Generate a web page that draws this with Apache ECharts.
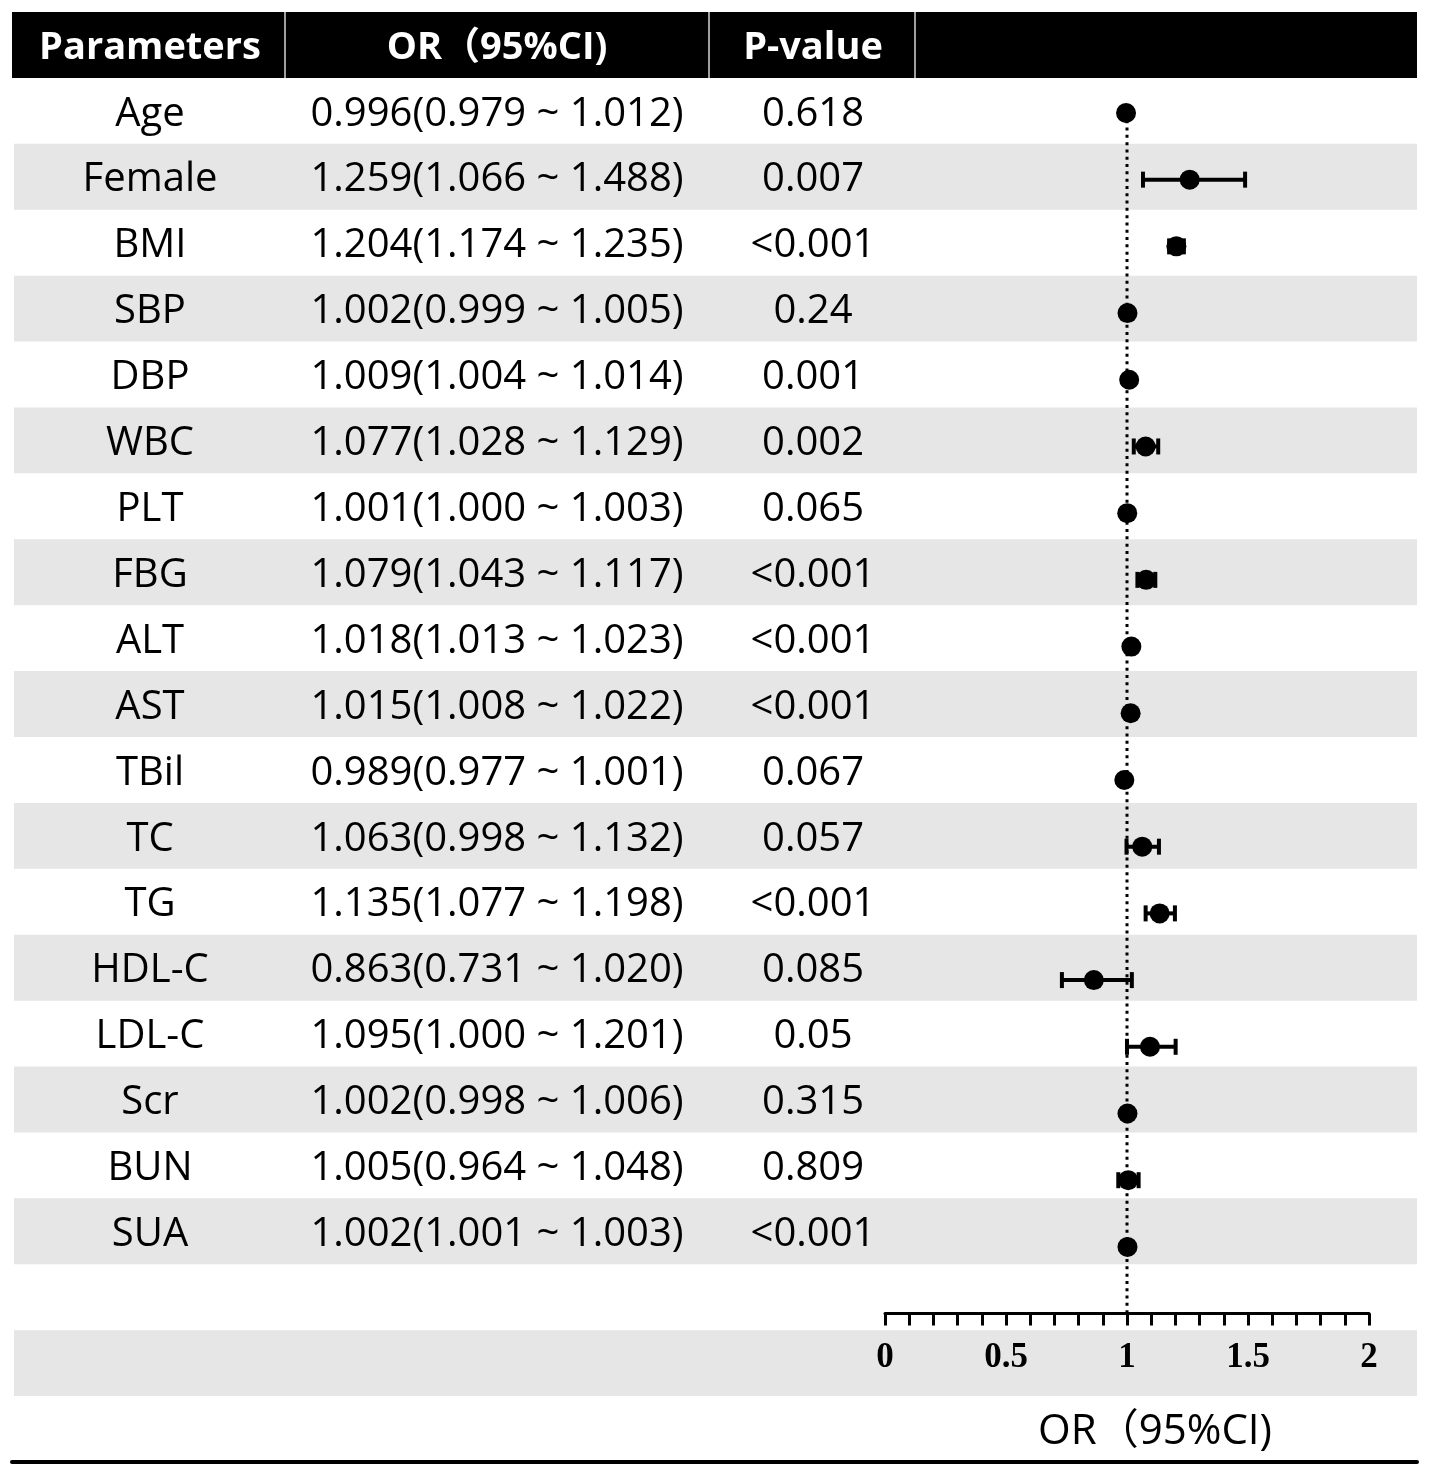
<!DOCTYPE html>
<html>
<head>
<meta charset="utf-8">
<title>Forest plot</title>
<script src="https://cdn.jsdelivr.net/npm/echarts@6/dist/echarts.min.js"></script>
<style>
  html, body { margin: 0; padding: 0; background: #fff; }
  #main { width: 1430px; height: 1475px; }
</style>
</head>
<body>
<div id="main"></div>
<script>
// table data
const params = ['Age', 'Female', 'BMI', 'SBP', 'DBP', 'WBC', 'PLT', 'FBG', 'ALT', 'AST',
    'TBil', 'TC', 'TG', 'HDL-C', 'LDL-C', 'Scr', 'BUN', 'SUA'];
const orValues = [0.996, 1.259, 1.204, 1.002, 1.009, 1.077, 1.001, 1.079, 1.018, 1.015,
    0.989, 1.063, 1.135, 0.863, 1.095, 1.002, 1.005, 1.002];
const ciLow = [0.979, 1.066, 1.174, 0.999, 1.004, 1.028, 1.000, 1.043, 1.013, 1.008,
    0.977, 0.998, 1.077, 0.731, 1.000, 0.998, 0.964, 1.001];
const ciHigh = [1.012, 1.488, 1.235, 1.005, 1.014, 1.129, 1.003, 1.117, 1.023, 1.022,
    1.001, 1.132, 1.198, 1.020, 1.201, 1.006, 1.048, 1.003];
const pValues = ['0.618', '0.007', '<0.001', '0.24', '0.001', '0.002', '0.065', '<0.001', '<0.001', '<0.001',
    '0.067', '0.057', '<0.001', '0.085', '0.05', '0.315', '0.809', '<0.001'];
const headers = ['Parameters', 'OR（95%CI)', 'P-value'];
const axisTicks = [0, 0.5, 1, 1.5, 2];
const xTitle = 'OR（95%CI)';

const SANS = "'Microsoft YaHei', 'Open Sans', 'Noto Sans CJK SC', sans-serif";
const TOTAL_ROWS = 22;          // header + 18 rows + blank + axis row + title row
const TABLE_W = 1405;
const colX = [138, 485, 801];   // column centres in table coords
const colSep = [273, 697, 903];
const refLine = 1;

// gray bands: every second parameter row, plus the axis row
let bandRows = [];
params.forEach((p, i) => { if (i % 2 === 1) bandRows.push(i + 1); });
bandRows.push(params.length + 2);

// text cells [col x, row, text, kind]
let cells = [];
headers.forEach((h, c) => cells.push([colX[c], 0, h, 'head']));
params.forEach((p, i) => {
    const ciText = orValues[i].toFixed(3) + '(' + ciLow[i].toFixed(3) + ' ~ ' + ciHigh[i].toFixed(3) + ')';
    cells.push([colX[0], i + 1, p, 'body']);
    cells.push([colX[1], i + 1, ciText, 'body']);
    cells.push([colX[2], i + 1, pValues[i], 'body']);
});
cells.push([1143, params.length + 3, xTitle, 'title']);

let myChart = echarts.init(document.getElementById('main'));

let options = {
    backgroundColor: '#fff',
    animation: false,
    grid: [
        { left: 12, top: 12, width: TABLE_W, height: 1450 },
        { left: 885, top: 79.6, width: 484, height: 1234 }
    ],
    xAxis: [
        {
            gridIndex: 0, type: 'value', min: 0, max: TABLE_W, z: 10,
            axisLine: { show: true, onZero: false, lineStyle: { color: '#000', width: 4 } },
            axisTick: { show: false }, axisLabel: { show: false }, splitLine: { show: false }
        },
        {
            gridIndex: 1, type: 'value', min: axisTicks[0], max: axisTicks[axisTicks.length - 1], interval: 0.5,
            z: 10,
            axisLine: { show: true, onZero: false, lineStyle: { color: '#000', width: 3 } },
            axisTick: { show: true, length: 12, lineStyle: { color: '#000', width: 3 } },
            minorTick: { show: true, splitNumber: 5, length: 12, lineStyle: { color: '#000', width: 3 } },
            axisLabel: {
                color: '#000', fontFamily: "'Liberation Serif', 'Times New Roman', serif",
                fontWeight: 'bold', fontSize: 35, margin: 27
            },
            splitLine: { show: false }
        }
    ],
    yAxis: [
        { gridIndex: 0, type: 'value', inverse: true, min: 0, max: TOTAL_ROWS, show: false },
        { gridIndex: 1, type: 'value', inverse: true, min: -0.5, max: params.length, show: false }
    ],
    series: [
        {
            // row backgrounds and header bar
            type: 'custom', xAxisIndex: 0, yAxisIndex: 0, z: 1, silent: true,
            data: [[0, 'head']].concat(bandRows.map(r => [r, 'band'])),
            renderItem: function (params, api) {
                const row = api.value(0);
                const isHead = row === 0;
                const p0 = api.coord([isHead ? 0 : 2, row]);
                const p1 = api.coord([TABLE_W, row + 1]);
                const children = [{
                    type: 'rect',
                    shape: { x: p0[0], y: p0[1], width: p1[0] - p0[0], height: p1[1] - p0[1] },
                    style: { fill: isHead ? '#000' : '#e6e6e6' }
                }];
                if (isHead) {
                    colSep.forEach(sx => {
                        const s = api.coord([sx, row]);
                        children.push({
                            type: 'line',
                            shape: { x1: s[0], y1: p0[1], x2: s[0], y2: p1[1] },
                            style: { stroke: '#a0a0a0', lineWidth: 2 }
                        });
                    });
                }
                return { type: 'group', children: children };
            }
        },
        {
            // table text
            type: 'custom', xAxisIndex: 0, yAxisIndex: 0, z: 3, silent: true,
            data: cells,
            renderItem: function (params, api) {
                const c = cells[params.dataIndex];
                const pt = api.coord([c[0], c[1] + 0.55]);
                const head = c[3] === 'head';
                return {
                    type: 'text',
                    x: pt[0], y: pt[1],
                    style: {
                        text: c[2],
                        fill: head ? '#fff' : '#000',
                        font: (head ? 'bold 38px ' : (c[3] === 'title' ? '42px ' : '40px ')) + SANS,
                        align: 'center', verticalAlign: 'middle'
                    }
                };
            }
        },
        {
            // reference line at OR = 1
            type: 'line', xAxisIndex: 1, yAxisIndex: 1, z: 2, silent: true,
            symbol: 'none',
            data: [[refLine, 0], [refLine, params.length]],
            lineStyle: { color: '#000', width: 3, type: [3, 4.3] }
        },
        {
            // confidence intervals
            type: 'custom', xAxisIndex: 1, yAxisIndex: 1, z: 4, silent: true,
            data: params.map((p, i) => [ciLow[i], ciHigh[i], i]),
            renderItem: function (params, api) {
                const a = api.coord([api.value(0), api.value(2)]);
                const b = api.coord([api.value(1), api.value(2)]);
                const capH = 16, capW = 4;
                return {
                    type: 'group',
                    children: [
                        { type: 'line', shape: { x1: a[0], y1: a[1], x2: b[0], y2: b[1] },
                          style: { stroke: '#000', lineWidth: 4 } },
                        { type: 'rect', shape: { x: a[0] - capW / 2, y: a[1] - capH / 2, width: capW, height: capH },
                          style: { fill: '#000' } },
                        { type: 'rect', shape: { x: b[0] - capW / 2, y: b[1] - capH / 2, width: capW, height: capH },
                          style: { fill: '#000' } }
                    ]
                };
            }
        },
        {
            // point estimates
            type: 'scatter', xAxisIndex: 1, yAxisIndex: 1, z: 5, silent: true,
            symbol: 'circle', symbolSize: 20,
            itemStyle: { color: '#000', opacity: 1 },
            data: params.map((p, i) => [orValues[i], i])
        }
    ]
};

myChart.setOption(options);
</script>
</body>
</html>
